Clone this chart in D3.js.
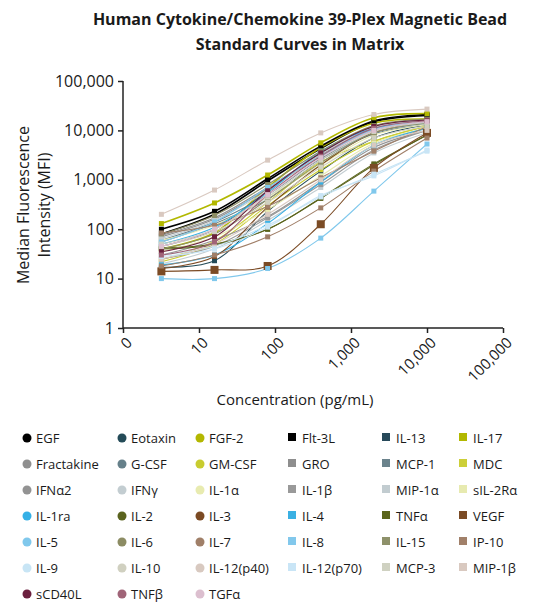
<!DOCTYPE html>
<html>
<head>
<meta charset="utf-8">
<script src="https://cdn.jsdelivr.net/npm/d3@7"></script>
<style>
  body { margin: 0; background: #fff; }
  svg text { font-family: "Open Sans", "DejaVu Sans", sans-serif; fill: #1a1a1a; }
</style>
</head>
<body>
<div id="app"></div>
<script>
// standard concentrations (pg/mL)
const concentrations = [3.2, 16, 80, 400, 2000, 10000];
const tickValues = [1, 10, 100, 1000, 10000, 100000];

// analytes in legend order (row by row), marker shape and colour
const analytes = [
  "EGF", "Eotaxin", "FGF-2", "Flt-3L", "IL-13", "IL-17",
  "Fractakine", "G-CSF", "GM-CSF", "GRO", "MCP-1", "MDC",
  "IFNα2", "IFNγ", "IL-1α", "IL-1β", "MIP-1α", "sIL-2Rα",
  "IL-1ra", "IL-2", "IL-3", "IL-4", "TNFα", "VEGF",
  "IL-5", "IL-6", "IL-7", "IL-8", "IL-15", "IP-10",
  "IL-9", "IL-10", "IL-12(p40)", "IL-12(p70)", "MCP-3", "MIP-1β",
  "sCD40L", "TNFβ", "TGFα"
];
const colors = [
  "#000000", "#244b58", "#b3b700", "#000000", "#27495a", "#b2b800",
  "#8f8f8f", "#66808a", "#c8cc2f", "#8e8e8e", "#6b838c", "#cccf38",
  "#939393", "#c3cdd1", "#e8ebb0", "#999999", "#c2ccd0", "#e7eab0",
  "#35b0e6", "#5a631e", "#7b4a23", "#3ab0e3", "#5b651c", "#7b4b25",
  "#80c8ec", "#8c8c63", "#a07f68", "#82c8ec", "#8e916a", "#a18069",
  "#c8e5f5", "#d0d0c0", "#d8c9c0", "#c9e5f6", "#cfd1c1", "#d9c9c0",
  "#6b1f3e", "#a06478", "#dcbfcf"
];
const shapes = [
  "c", "c", "c", "s", "s", "s",
  "c", "c", "c", "s", "s", "s",
  "c", "c", "c", "s", "s", "s",
  "c", "c", "c", "s", "s", "s",
  "c", "c", "c", "s", "s", "s",
  "c", "c", "c", "s", "s", "s",
  "c", "c", "c"
];

// MFI at each concentration
const mfi = {
  "EGF":        [80, 200, 950, 4300, 15000, 20000],
  "Eotaxin":    [17, 23, 230, 1500, 7000, 13000],
  "FGF-2":      [40, 85, 700, 4500, 14000, 17000],
  "Flt-3L":     [100, 230, 1050, 4800, 15500, 21000],
  "IL-13":      [45, 100, 600, 3500, 12000, 16000],
  "IL-17":      [130, 340, 1250, 5600, 18000, 22000],
  "Fractakine": [75, 170, 700, 3200, 11000, 16000],
  "G-CSF":      [60, 140, 500, 2700, 9000, 14000],
  "GM-CSF":     [22, 50, 300, 1600, 6000, 12000],
  "GRO":        [70, 160, 650, 3000, 10000, 15000],
  "MCP-1":      [55, 130, 400, 2500, 8500, 13000],
  "MDC":        [24, 58, 350, 2300, 6000, 12500],
  "IFNα2":      [30, 60, 180, 900, 4500, 10000],
  "IFNγ":       [20, 40, 150, 700, 3500, 9000],
  "IL-1α":      [60, 120, 450, 2000, 8000, 13000],
  "IL-1β":      [25, 45, 170, 800, 4000, 10000],
  "MIP-1α":     [65, 150, 600, 3300, 11500, 16000],
  "sIL-2Rα":    [35, 70, 250, 1200, 5500, 11000],
  "IL-1ra":     [19, 30, 130, 900, 5000, 11000],
  "IL-2":       [40, 48, 100, 420, 2000, 8200],
  "IL-3":       [16, 28, 280, 2000, 9000, 15000],
  "IL-4":       [50, 110, 550, 3800, 11000, 14000],
  "TNFα":       [42, 50, 100, 430, 2100, 8000],
  "VEGF":       [14, 15, 18, 126, 1740, 8900],
  "IL-5":       [10, 10, 16, 66, 590, 5300],
  "IL-6":       [80, 190, 800, 3800, 12500, 17000],
  "IL-7":       [18, 30, 70, 270, 1500, 7000],
  "IL-8":       [55, 140, 700, 3000, 10500, 14500],
  "IL-15":      [40, 80, 400, 2200, 9000, 14000],
  "IP-10":      [84, 120, 290, 1100, 3800, 12000],
  "IL-9":       [30, 45, 120, 450, 1300, 3800],
  "IL-10":      [45, 90, 350, 1800, 7000, 12000],
  "IL-12(p40)": [25, 50, 200, 1000, 5000, 10000],
  "IL-12(p70)": [28, 40, 110, 480, 1200, 4000],
  "MCP-3":      [50, 100, 450, 2500, 9500, 14500],
  "MIP-1β":     [200, 620, 2500, 8900, 21000, 27000],
  "sCD40L":     [35, 70, 600, 3500, 12000, 16000],
  "TNFβ":       [30, 55, 500, 3000, 11000, 15500],
  "TGFα":       [45, 100, 500, 2800, 10000, 15000]
};

const w = 545, h = 605;
const svg = d3.select("#app").append("svg")
  .attr("width", w).attr("height", h);

const x = d3.scaleLog().domain([1, 100000]).range([123, 503]);
const y = d3.scaleLog().domain([1, 100000]).range([328, 81]);

// title
svg.append("text")
  .attr("x", 300).attr("y", 25)
  .attr("text-anchor", "middle")
  .style("font-size", "16px").style("font-weight", "bold")
  .text("Human Cytokine/Chemokine 39-Plex Magnetic Bead");
svg.append("text")
  .attr("x", 300).attr("y", 50)
  .attr("text-anchor", "middle")
  .style("font-size", "16px").style("font-weight", "bold")
  .text("Standard Curves in Matrix");

// axes
const yAxis = d3.axisLeft(y).tickValues(tickValues)
  .tickFormat(d3.format(",")).tickSize(5).tickPadding(4);
const gy = svg.append("g").attr("transform", "translate(123,0)").call(yAxis);
gy.selectAll("text").style("font-size", "16px");

const xAxis = d3.axisBottom(x).tickValues(tickValues)
  .tickFormat(d => d === 1 ? "0" : d3.format(",")(d)).tickSize(5);
const gx = svg.append("g").attr("transform", "translate(0,328)").call(xAxis);
gx.selectAll("text")
  .style("font-size", "15px")
  .attr("text-anchor", "end")
  .attr("dx", "0").attr("dy", "0")
  .attr("transform", "translate(4,10) rotate(-45)");

[gx, gy].forEach(g => {
  g.select(".domain").attr("stroke", "#222").attr("stroke-width", 1.5);
  g.selectAll(".tick line").attr("stroke", "#222").attr("stroke-width", 1.5);
});
gy.select(".domain").attr("d", "M0,81V328");
gx.select(".domain").attr("d", "M123,0H503");

// axis titles
svg.append("text")
  .attr("transform", "translate(29,205) rotate(-90)")
  .attr("text-anchor", "middle").style("font-size", "16px")
  .text("Median Fluorescence");
svg.append("text")
  .attr("transform", "translate(50,205) rotate(-90)")
  .attr("text-anchor", "middle").style("font-size", "16px")
  .text("Intensity (MFI)");
svg.append("text")
  .attr("x", 295).attr("y", 405)
  .attr("text-anchor", "middle").style("font-size", "15px")
  .text("Concentration (pg/mL)");

// curves
const line = d3.line()
  .x((d, i) => x(concentrations[i]))
  .y(d => y(d))
  .curve(d3.curveCatmullRom.alpha(0.5));

const plot = svg.append("g");
analytes.forEach((name, i) => {
  const thick = ["EGF", "Flt-3L", "IL-17", "FGF-2"].includes(name);
  plot.append("path")
    .datum(mfi[name])
    .attr("fill", "none")
    .attr("stroke", colors[i])
    .attr("stroke-width", thick ? 1.6 : 1.1)
    .attr("d", line);
});
analytes.forEach((name, i) => {
  const size = name === "VEGF" ? 8 : 5;
  plot.selectAll(null)
    .data(mfi[name])
    .enter()
    .append("rect")
    .attr("x", (d, j) => x(concentrations[j]) - size / 2)
    .attr("y", d => y(d) - size / 2)
    .attr("width", size).attr("height", size)
    .attr("fill", colors[i]);
});

// legend
const colX = [27, 122, 200, 292, 386, 463];
const rowY = [438, 464, 490, 516, 542, 568, 594];
const legend = svg.append("g");
analytes.forEach((name, i) => {
  const cx = colX[i % 6], cy = rowY[Math.floor(i / 6)];
  const g = legend.append("g").attr("transform", `translate(${cx},${cy})`);
  if (shapes[i] === "c") {
    g.append("circle").attr("r", 4.5).attr("fill", colors[i]);
  } else {
    g.append("rect").attr("x", -4).attr("y", -5).attr("width", 8).attr("height", 8)
      .attr("fill", colors[i]);
  }
  g.append("text")
    .attr("x", shapes[i] === "c" ? 9 : 10).attr("y", 5)
    .style("font-size", "13px")
    .text(name);
});
</script>
</body>
</html>
